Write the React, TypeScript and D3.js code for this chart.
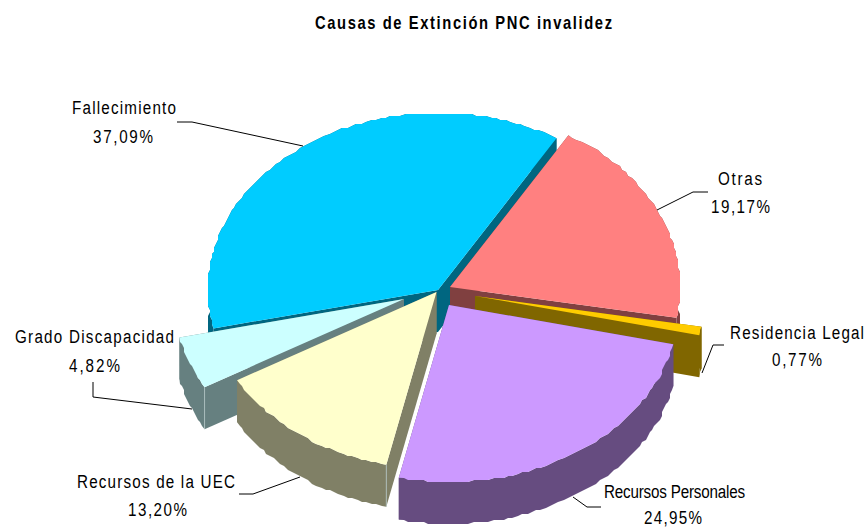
import React from "react";
import * as d3 from "d3";

const categories = ["Otras", "Residencia Legal", "Recursos Personales", "Recursos de la UEC", "Grado Discapacidad", "Fallecimiento"];
const percentLabels = ["19,17%", "0,77%", "24,95%", "13,20%", "4,82%", "37,09%"];
const values = [19.17, 0.77, 24.95, 13.2, 4.82, 37.09];
const topColors = ["#FF8080", "#FFCC00", "#CC99FF", "#FFFFCC", "#CCFFFF", "#00CCFF"];
const sideColors = ["#804040", "#806600", "#664C80", "#808066", "#668080", "#006680"];
const title = "Causas de Extinción PNC invalidez";

// layout
const W = 868, H = 527, RX = 230, RY = 177, DEPTH = 42;
const START = (31 * Math.PI) / 180;
const apexes: [number, number][] = [[450, 287], [475, 296], [449, 305], [436.5, 292], [404, 299], [438, 290]];
const drawOrder = [5, 0, 1, 4, 3, 2];
const labelLayout: { x: number; w: number; y: number; px: number; pw: number; py: number }[] = [
  { x: 718, w: 44, y: 185, px: 711, pw: 59, py: 213 },
  { x: 730, w: 134, y: 339, px: 772, pw: 50, py: 366 },
  { x: 604, w: 141, y: 498, px: 644, pw: 58, py: 524 },
  { x: 77, w: 158, y: 488, px: 128, pw: 59, py: 516 },
  { x: 15, w: 159, y: 343, px: 69, pw: 51, py: 372 },
  { x: 72, w: 104, y: 114, px: 93, pw: 60, py: 143 },
];
const leaders: [number, number][][] = [
  [[657, 210], [693, 192], [708, 192]],
  [[702, 373], [713, 345], [724, 345]],
  [[573, 497], [587, 507], [601, 507]],
  [[300, 477], [253, 494], [239, 494]],
  [[192, 409], [93, 397], [93, 382]],
  [[303, 146], [192, 122], [177, 122]],
];

const arcs = d3.pie<number>().sort(null).startAngle(START).endAngle(START + 2 * Math.PI)(values);
const lineGen = d3.line<[number, number]>();
const GRID = 2;
const FONT = "'Liberation Sans', Arial, sans-serif";

function rim(a0: number, a1: number, cx: number, cy: number): [number, number][] {
  const n = Math.max(2, Math.ceil((a1 - a0) / 0.022));
  const scale = d3.scaleLinear().domain([0, n]).range([a0, a1]);
  return d3.range(n + 1).map((i) => {
    const a = scale(i);
    let x = cx + RX * Math.sin(a), y = cy - RY * Math.cos(a);
    if (i > 0 && i < n) { x = Math.round(x / GRID) * GRID; y = Math.round(y / GRID) * GRID; }
    return [x, y] as [number, number];
  });
}
const shift = (pts: [number, number][], d: number) => pts.map(([x, y]) => [x, y + d] as [number, number]);

function Slice({ idx }: { idx: number }) {
  const arc = arcs[idx];
  const [cx, cy] = apexes[idx];
  const pts = rim(arc.startAngle, arc.endAngle, cx, cy);
  const apex: [number, number] = [cx, cy];
  const first = pts[0], last = pts[pts.length - 1];
  const wallA = [apex, first, shift([first], DEPTH)[0], shift([apex], DEPTH)[0]] as [number, number][];
  const wallB = [apex, last, shift([last], DEPTH)[0], shift([apex], DEPTH)[0]] as [number, number][];
  const rimWall = [...pts, ...shift(pts, DEPTH).reverse()];
  const top = [apex, ...pts];
  const corner = idx === 3 || idx === 4;
  return (
    <g>
      <path d={lineGen(wallA) + "Z"} fill={sideColors[idx]} />
      <path d={lineGen(wallB) + "Z"} fill={sideColors[idx]} />
      <path d={lineGen(rimWall) + "Z"} fill={sideColors[idx]} />
      <path d={lineGen(top) + "Z"} fill={topColors[idx]} />
      {corner && <path d={lineGen([first, shift([first], DEPTH)[0]]) ?? ""} stroke="#B0C4C4" strokeWidth={0.8} fill="none" />}
    </g>
  );
}

function Squeezed({ x, y, w, size, sx, bold, children }: { x: number; y: number; w: number; size: number; sx: number; bold?: boolean; children: string }) {
  return (
    <text transform={`translate(${x},${y}) scale(${sx},1)`} fontFamily={FONT} fontSize={size} fontWeight={bold ? "bold" : "normal"} textLength={w / sx} lengthAdjust="spacing" fill="#000">
      {children}
    </text>
  );
}

export default function App() {
  return (
    <svg width={W} height={H} style={{ position: "absolute", left: 0, top: 0, background: "#fff" }}>
      <Squeezed x={315} y={29} w={297} size={18} sx={0.82} bold>{title}</Squeezed>
      {drawOrder.map((i) => <Slice key={i} idx={i} />)}
      {leaders.map((l, i) => <path key={i} d={lineGen(l) ?? ""} fill="none" stroke="#000" strokeWidth={1} />)}
      {categories.map((c, i) => (
        <g key={c}>
          <Squeezed x={labelLayout[i].x} y={labelLayout[i].y} w={labelLayout[i].w} size={19} sx={0.8}>{c}</Squeezed>
          <Squeezed x={labelLayout[i].px} y={labelLayout[i].py} w={labelLayout[i].pw} size={19} sx={0.8}>{percentLabels[i]}</Squeezed>
        </g>
      ))}
    </svg>
  );
}
